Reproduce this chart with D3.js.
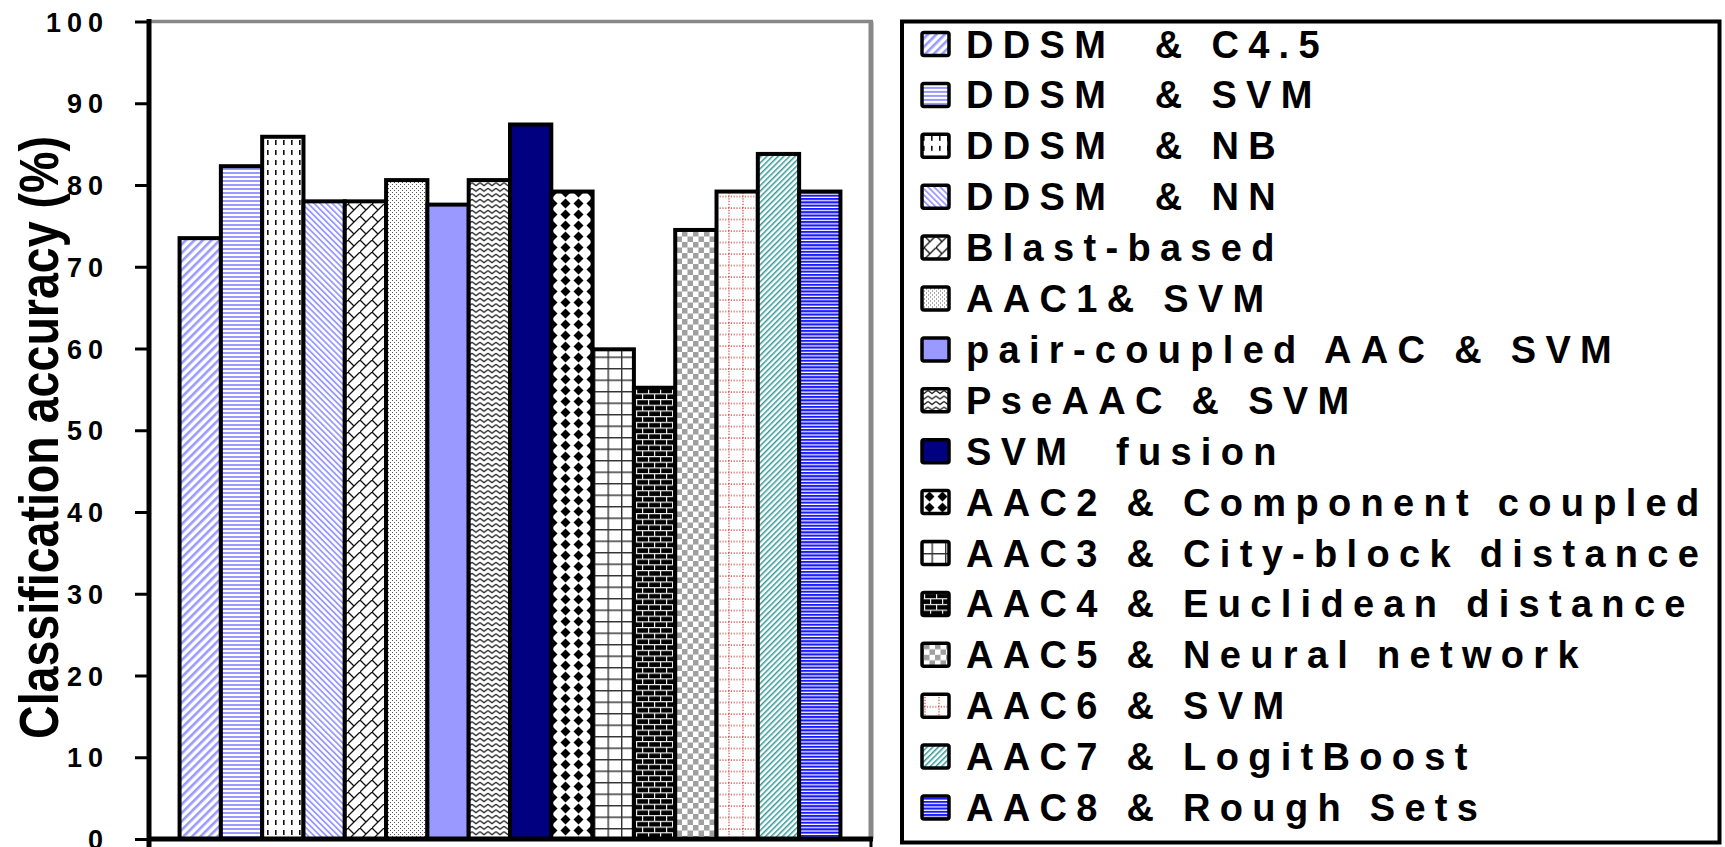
<!DOCTYPE html>
<html>
<head>
<meta charset="utf-8">
<script src="https://cdn.jsdelivr.net/npm/d3@7"></script>
<style>
  html, body { margin: 0; padding: 0; background: #fff; }
  svg { display: block; }
  text { font-family: "Liberation Sans", Arial, sans-serif; font-weight: bold; fill: #000; }
</style>
</head>
<body>
<svg id="chart" width="1725" height="847"></svg>
<script>
// ---- data ----
const seriesNames = [
  "DDSM  & C4.5", "DDSM  & SVM", "DDSM  & NB", "DDSM  & NN", "Blast-based",
  "AAC1& SVM", "pair-coupled AAC & SVM", "PseAAC & SVM", "SVM  fusion",
  "AAC2 & Component coupled", "AAC3 & City-block distance", "AAC4 & Euclidean distance",
  "AAC5 & Neural network", "AAC6 & SVM", "AAC7 & LogitBoost", "AAC8 & Rough Sets"
];
const accuracy = [73.5, 82.3, 85.9, 78.0, 78.0, 80.6, 77.6, 80.6, 87.4, 79.2, 59.9, 55.2, 74.5, 79.2, 83.8, 79.2];
const yTicks = [0, 10, 20, 30, 40, 50, 60, 70, 80, 90, 100];
const yTitle = "Classification accuracy (%)";

// ---- layout ----
const svg = d3.select("#chart");
const plot = { left: 149, right: 871, top: 21.5, bottom: 839 };

const x = d3.scaleBand().domain(seriesNames).range([plot.left, plot.right]).paddingInner(0).paddingOuter(0.74);
const y = d3.scaleLinear().domain([0, 100]).range([plot.bottom, plot.top]);

// ---- patterns ----
const defs = svg.append("defs");
function pat(id, w, h, rot) {
  const p = defs.append("pattern").attr("id", id).attr("patternUnits", "userSpaceOnUse")
    .attr("width", w).attr("height", h);
  if (rot) p.attr("patternTransform", `rotate(${rot})`);
  return p;
}
const PERI = "#9999ff";
let p = pat("p0", 6, 6, 45); p.append("rect").attr("width", 6).attr("height", 6).attr("fill", "#fff");
p.append("rect").attr("width", 2.6).attr("height", 6).attr("fill", PERI);
p = pat("p1", 4, 4); p.append("rect").attr("width", 4).attr("height", 4).attr("fill", "#fff");
p.append("rect").attr("width", 4).attr("height", 2).attr("fill", PERI);
p = pat("p2", 8, 10); p.append("rect").attr("width", 8).attr("height", 10).attr("fill", "#fff");
p.append("rect").attr("x", 3).attr("y", 0).attr("width", 1.6).attr("height", 5).attr("fill", "#111");
p = pat("p3", 4.3, 4.3, -45); p.append("rect").attr("width", 4.3).attr("height", 4.3).attr("fill", "#fff");
p.append("rect").attr("width", 1.8).attr("height", 4.3).attr("fill", PERI);
p = pat("p4", 12, 12); p.append("rect").attr("width", 12).attr("height", 12).attr("fill", "#fff");
p.append("path").attr("d", "M-1,13 L13,-1 M0,0 L6,6").attr("stroke", "#111").attr("stroke-width", 1.3).attr("fill", "none");
p = pat("p5", 4, 4); p.append("rect").attr("width", 4).attr("height", 4).attr("fill", "#fff");
p.append("rect").attr("x", 0).attr("y", 0).attr("width", 1).attr("height", 1).attr("fill", "#555");
p.append("rect").attr("x", 2).attr("y", 2).attr("width", 1).attr("height", 1).attr("fill", "#555");
p = pat("p7", 8, 5.5); p.append("rect").attr("width", 8).attr("height", 5.5).attr("fill", "#fff");
p.append("path").attr("d", "M0,1.2 L4,4.2 L8,1.2").attr("stroke", "#222").attr("stroke-width", 1.2).attr("fill", "none");
p = pat("p9", 13, 11); p.append("rect").attr("width", 13).attr("height", 11).attr("fill", "#fff");
p.append("path").attr("d", "M6.5,0.5 L11.5,5.5 L6.5,10.5 L1.5,5.5 Z").attr("fill", "#000");
p = pat("p10", 13.5, 11.5); p.append("rect").attr("width", 13.5).attr("height", 11.5).attr("fill", "#fff");
p.append("path").attr("d", "M0.7,0 V11.5 M0,0.7 H13.5").attr("stroke", "#333").attr("stroke-width", 1.4);
p = pat("p11", 12, 11.4); p.append("rect").attr("width", 12).attr("height", 11.4).attr("fill", "#000");
p.append("path").attr("d", "M0,0.6 H12 M0,6.3 H12 M0.6,0.6 V6.3 M6.6,6.3 V11.4")
  .attr("stroke", "#eee").attr("stroke-width", 1.2);
p = pat("p12", 11, 11); p.append("rect").attr("width", 11).attr("height", 11).attr("fill", "#fff");
p.append("rect").attr("width", 5.5).attr("height", 5.5).attr("fill", "#a0a0a0");
p.append("rect").attr("x", 5.5).attr("y", 5.5).attr("width", 5.5).attr("height", 5.5).attr("fill", "#a0a0a0");
p = pat("p13", 14, 11.5); p.append("rect").attr("width", 14).attr("height", 11.5).attr("fill", "#fff");
p.append("path").attr("d", "M1,0 V11.5 M0,1 H14").attr("stroke", "#c83232").attr("stroke-width", 1.2)
  .attr("stroke-dasharray", "1.2,1.6");
p = pat("p14", 4, 4, 45); p.append("rect").attr("width", 4).attr("height", 4).attr("fill", "#fff");
p.append("rect").attr("width", 1.5).attr("height", 4).attr("fill", "#339999");
p = pat("p15", 3.3, 3.3); p.append("rect").attr("width", 3.3).attr("height", 3.3).attr("fill", "#fff");
p.append("rect").attr("width", 3.3).attr("height", 2.1).attr("fill", "#1a1aff");

const fills = ["url(#p0)", "url(#p1)", "url(#p2)", "url(#p3)", "url(#p4)", "url(#p5)", PERI, "url(#p7)",
  "#000080", "url(#p9)", "url(#p10)", "url(#p11)", "url(#p12)", "url(#p13)", "url(#p14)", "url(#p15)"];

// ---- plot frame (gray top/right) ----
svg.append("line").attr("x1", plot.left).attr("x2", plot.right + 2).attr("y1", plot.top).attr("y2", plot.top)
  .attr("stroke", "#888").attr("stroke-width", 3.5);
svg.append("line").attr("x1", plot.right).attr("x2", plot.right).attr("y1", plot.top).attr("y2", plot.bottom)
  .attr("stroke", "#888").attr("stroke-width", 5);

// ---- bars ----
svg.append("g").selectAll("rect").data(seriesNames).join("rect")
  .attr("x", d => x(d))
  .attr("y", (d, i) => y(accuracy[i]))
  .attr("width", x.bandwidth())
  .attr("height", (d, i) => y(0) - y(accuracy[i]))
  .attr("fill", (d, i) => fills[i])
  .attr("stroke", "#000").attr("stroke-width", 4).attr("stroke-linejoin", "miter");

// ---- y axis ----
const yAxis = d3.axisLeft(y).tickValues(yTicks).tickSize(14).tickPadding(26).tickFormat(d3.format("d"));
const gy = svg.append("g").attr("transform", `translate(${plot.left},0)`).call(yAxis);
gy.select(".domain").remove();
gy.selectAll(".tick line").attr("stroke", "#000").attr("stroke-width", 3);
gy.selectAll(".tick text").attr("font-size", 27).attr("font-family", "Liberation Sans, Arial, sans-serif")
  .attr("font-weight", "bold").attr("fill", "#000").attr("letter-spacing", 6).attr("dy", "0.36em");
svg.append("line").attr("x1", plot.left).attr("x2", plot.left).attr("y1", 19).attr("y2", 847)
  .attr("stroke", "#000").attr("stroke-width", 5);

// ---- x axis ----
svg.append("line").attr("x1", plot.left).attr("x2", plot.right + 2).attr("y1", plot.bottom).attr("y2", plot.bottom)
  .attr("stroke", "#000").attr("stroke-width", 5);
svg.append("line").attr("x1", plot.right).attr("x2", plot.right).attr("y1", plot.bottom).attr("y2", 847)
  .attr("stroke", "#000").attr("stroke-width", 3);

// ---- y title ----
svg.append("text")
  .attr("transform", `translate(58,437.5) rotate(-90)`)
  .attr("text-anchor", "middle")
  .attr("font-size", 55)
  .attr("textLength", 603).attr("lengthAdjust", "spacingAndGlyphs")
  .text(yTitle);

// ---- legend ----
svg.append("rect").attr("x", 902).attr("y", 21.5).attr("width", 1719.5 - 902).attr("height", 842.5 - 21.5)
  .attr("fill", "#fff").attr("stroke", "#000").attr("stroke-width", 4);
const leg = svg.append("g").selectAll("g").data(seriesNames).join("g")
  .attr("transform", (d, i) => `translate(0,${44 + i * 50.9})`);
leg.append("rect").attr("x", 922).attr("y", -11.5).attr("width", 27).attr("height", 23).attr("rx", 2)
  .attr("fill", (d, i) => fills[i]).attr("stroke", "#000").attr("stroke-width", 3.5);
leg.append("text").attr("x", 966).attr("y", 13.5).attr("font-size", 38).attr("letter-spacing", 9.3)
  .style("white-space", "pre").text(d => d);
</script>
</body>
</html>
